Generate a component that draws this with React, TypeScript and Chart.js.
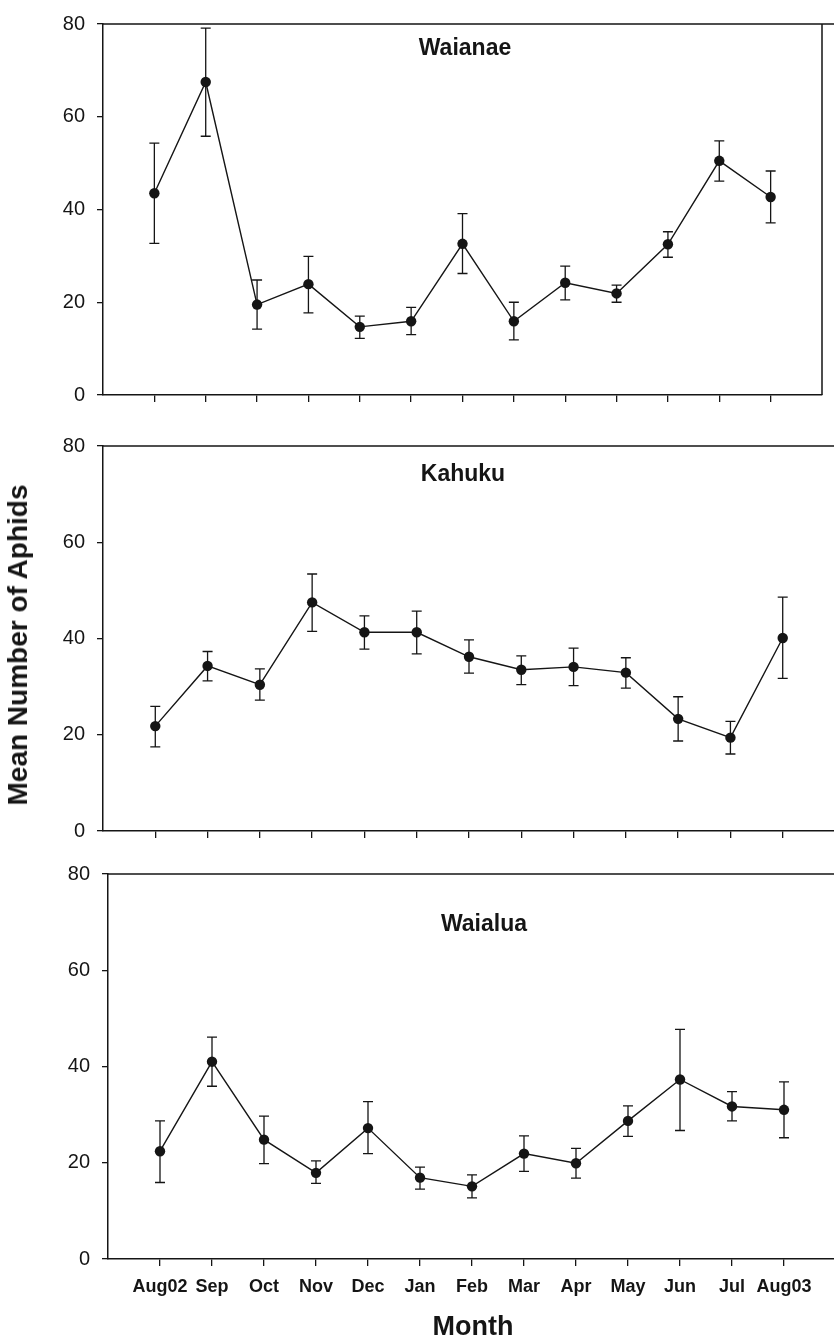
import React, { useEffect, useRef } from 'react';
import { Chart, registerables } from 'chart.js';

Chart.register(...registerables);

const months = ['Aug02', 'Sep', 'Oct', 'Nov', 'Dec', 'Jan', 'Feb', 'Mar', 'Apr', 'May', 'Jun', 'Jul', 'Aug03'];
const yTickValues = [0, 20, 40, 60, 80];

const waianaeMean = [43.5, 67.5, 19.5, 23.9, 14.7, 15.9, 32.6, 15.9, 24.2, 21.9, 32.5, 50.5, 42.7];
const waianaeUpper = [54.3, 79.1, 24.8, 29.9, 17.0, 18.9, 39.1, 20.0, 27.8, 23.7, 35.2, 54.8, 48.3];
const waianaeLower = [32.7, 55.8, 14.2, 17.7, 12.2, 13.0, 26.2, 11.9, 20.5, 20.0, 29.7, 46.1, 37.1];

const kahukuMean = [21.8, 34.3, 30.4, 47.5, 41.3, 41.3, 36.2, 33.5, 34.1, 32.9, 23.3, 19.4, 40.1];
const kahukuUpper = [25.9, 37.3, 33.7, 53.4, 44.7, 45.7, 39.7, 36.4, 38.0, 36.0, 27.9, 22.8, 48.6];
const kahukuLower = [17.5, 31.2, 27.2, 41.5, 37.8, 36.8, 32.8, 30.4, 30.2, 29.7, 18.7, 16.0, 31.7];

const waialuaMean = [22.4, 41.0, 24.8, 17.9, 27.2, 16.9, 15.1, 21.9, 19.9, 28.7, 37.3, 31.7, 31.0];
const waialuaUpper = [28.7, 46.1, 29.7, 20.4, 32.7, 19.1, 17.5, 25.6, 23.0, 31.8, 47.7, 34.8, 36.8];
const waialuaLower = [15.9, 35.9, 19.8, 15.7, 21.9, 14.5, 12.7, 18.2, 16.8, 25.5, 26.7, 28.7, 25.2];

const FONT = '"Liberation Sans", Arial, Helvetica, sans-serif';
const INK = '#151515';

type PanelSpec = {
  title: string;
  mean: number[];
  upper: number[];
  lower: number[];
  canvasTop: number;
  canvasHeight: number;
  canvasWidth: number;
  areaLeft: number;
  areaRight: number;
  areaTop: number;
  areaBottom: number;
  titleX: number;
  titleY: number;
  rightBorder: boolean;
  showXLabels: boolean;
};

const panels: PanelSpec[] = [
  {
    title: 'Waianae', mean: waianaeMean, upper: waianaeUpper, lower: waianaeLower,
    canvasTop: 0, canvasHeight: 440, canvasWidth: 834,
    areaLeft: 103, areaRight: 822, areaTop: 13, areaBottom: 395,
    titleX: 465, titleY: 49, rightBorder: true, showXLabels: false,
  },
  {
    title: 'Kahuku', mean: kahukuMean, upper: kahukuUpper, lower: kahukuLower,
    canvasTop: 420, canvasHeight: 440, canvasWidth: 842,
    areaLeft: 103, areaRight: 835, areaTop: 446, areaBottom: 831,
    titleX: 463, titleY: 475, rightBorder: false, showXLabels: false,
  },
  {
    title: 'Waialua', mean: waialuaMean, upper: waialuaUpper, lower: waialuaLower,
    canvasTop: 850, canvasHeight: 493, canvasWidth: 842,
    areaLeft: 108, areaRight: 836, areaTop: 874, areaBottom: 1259,
    titleX: 484, titleY: 925, rightBorder: false, showXLabels: true,
  },
];

function makeDecorPlugin(spec: PanelSpec) {
  return {
    id: 'decor_' + spec.title,
    beforeDatasetsDraw(chart: any) {
      const { ctx, scales } = chart;
      const xs = scales.x;
      const ys = scales.y;
      ctx.save();
      ctx.strokeStyle = INK;
      ctx.lineWidth = 1.3;
      for (let i = 0; i < spec.mean.length; i++) {
        const x = xs.getPixelForValue(i);
        const yT = ys.getPixelForValue(spec.upper[i]);
        const yB = ys.getPixelForValue(spec.lower[i]);
        ctx.beginPath();
        ctx.moveTo(x, yT);
        ctx.lineTo(x, yB);
        ctx.moveTo(x - 5, yT);
        ctx.lineTo(x + 5, yT);
        ctx.moveTo(x - 5, yB);
        ctx.lineTo(x + 5, yB);
        ctx.stroke();
      }
      ctx.restore();
    },
    afterDraw(chart: any) {
      const { ctx, chartArea } = chart;
      ctx.save();
      ctx.strokeStyle = INK;
      ctx.lineWidth = 1.5;
      ctx.beginPath();
      ctx.moveTo(chartArea.left, chartArea.top);
      ctx.lineTo(chart.width, chartArea.top);
      if (spec.rightBorder) {
        ctx.moveTo(chartArea.right, chartArea.top);
        ctx.lineTo(chartArea.right, chartArea.bottom);
      }
      ctx.stroke();
      ctx.fillStyle = INK;
      ctx.font = 'bold 23px ' + FONT;
      ctx.textAlign = 'center';
      ctx.textBaseline = 'middle';
      ctx.fillText(spec.title, spec.titleX, spec.titleY - spec.canvasTop);
      ctx.restore();
    },
  };
}

function Panel({ spec }: { spec: PanelSpec }) {
  const ref = useRef<HTMLCanvasElement | null>(null);
  useEffect(() => {
    if (!ref.current) return;
    const localTop = spec.areaTop - spec.canvasTop;
    const localBottom = spec.areaBottom - spec.canvasTop;
    const xHeight = spec.canvasHeight - localBottom;
    const chart = new Chart(ref.current, {
      type: 'line',
      data: {
        datasets: [
          {
            data: spec.mean.map((v, i) => ({ x: i, y: v })),
            borderColor: INK,
            borderWidth: 1.4,
            pointRadius: 5.2,
            pointBackgroundColor: INK,
            pointBorderColor: INK,
            pointBorderWidth: 0,
            tension: 0,
            fill: false,
          },
        ],
      },
      options: {
        animation: false,
        responsive: false,
        maintainAspectRatio: false,
        devicePixelRatio: 1,
        layout: {
          padding: { left: 0, top: localTop, right: spec.canvasWidth - spec.areaRight, bottom: 0 },
        },
        plugins: { legend: { display: false }, tooltip: { enabled: false }, title: { display: false } },
        scales: {
          x: {
            type: 'linear',
            min: -1,
            max: months.length,
            afterBuildTicks: (s: any) => {
              s.ticks = months.map((_, i) => ({ value: i }));
            },
            afterFit: (s: any) => {
              s.height = xHeight;
            },
            ticks: {
              display: spec.showXLabels,
              autoSkip: false,
              maxRotation: 0,
              minRotation: 0,
              padding: 10,
              color: INK,
              font: { family: FONT, size: 18, weight: 'bold' },
              callback: (v: any) => months[Math.round(Number(v))] ?? '',
            },
            grid: { drawOnChartArea: false, drawTicks: true, tickLength: 7, color: INK, lineWidth: 1.3 },
            border: { display: true, color: INK, width: 1.5 },
          },
          y: {
            type: 'linear',
            min: 0,
            max: 80,
            afterBuildTicks: (s: any) => {
              s.ticks = yTickValues.map((v) => ({ value: v }));
            },
            afterFit: (s: any) => {
              s.width = spec.areaLeft;
            },
            ticks: {
              padding: 12,
              color: INK,
              font: { family: FONT, size: 20 },
            },
            grid: { drawOnChartArea: false, drawTicks: true, tickLength: 6, color: INK, lineWidth: 1.3 },
            border: { display: true, color: INK, width: 1.5 },
          },
        },
      } as any,
      plugins: [makeDecorPlugin(spec)],
    });
    return () => chart.destroy();
  }, [spec]);
  return (
    <canvas
      ref={ref}
      width={spec.canvasWidth}
      height={spec.canvasHeight}
      style={{
        position: 'absolute',
        left: 0,
        top: spec.canvasTop,
        width: spec.canvasWidth,
        height: spec.canvasHeight,
      }}
    />
  );
}

export default function App() {
  return (
    <div
      style={{
        position: 'absolute',
        left: 0,
        top: 0,
        width: 834,
        height: 1343,
        overflow: 'hidden',
        background: '#fff',
      }}
    >
      {panels.map((p) => (
        <Panel key={p.title} spec={p} />
      ))}
      <div
        style={{
          position: 'absolute',
          left: 18,
          top: 645,
          transform: 'translate(-50%, -50%) rotate(-90deg)',
          whiteSpace: 'nowrap',
          font: 'bold 28px ' + FONT,
          color: INK,
        }}
      >
        Mean Number of Aphids
      </div>
      <div
        style={{
          position: 'absolute',
          left: 473,
          top: 1326,
          transform: 'translate(-50%, -50%)',
          whiteSpace: 'nowrap',
          font: 'bold 27px ' + FONT,
          color: INK,
        }}
      >
        Month
      </div>
    </div>
  );
}
